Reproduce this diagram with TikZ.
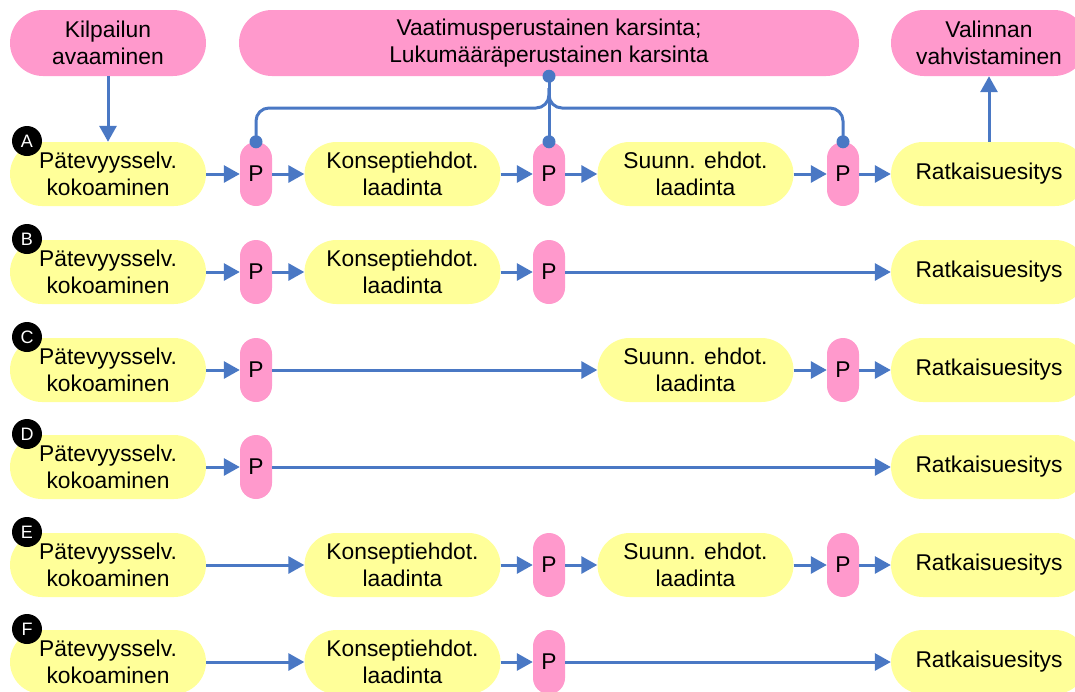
\documentclass[tikz,border=0pt]{standalone}
\usepackage{fontspec}
\setmainfont{Liberation Sans}
\usetikzlibrary{arrows.meta}
\definecolor{pinkc}{HTML}{FF99CC}
\definecolor{yelc}{HTML}{FFFF99}
\definecolor{bluec}{HTML}{4A78C4}
\begin{document}
\begin{tikzpicture}[x=1pt,y=-1pt,
 font=\fontsize{22.8}{27}\selectfont,
 yb/.style={fill=yelc, minimum width=196pt, minimum height=64pt, rounded corners=32pt, inner sep=0pt, align=center},
 pb/.style={fill=pinkc, minimum width=32pt, minimum height=64pt, rounded corners=16pt, inner sep=0pt},
 tb/.style={fill=pinkc, minimum height=66pt, rounded corners=33pt, inner sep=0pt, align=center},
 arr/.style={draw=bluec, line width=3pt, -{Triangle[length=16pt,width=17pt]}},
 ln/.style={draw=bluec, line width=3pt},
 bdot/.style={circle, fill=bluec, inner sep=0pt, minimum size=13pt},
 lett/.style={circle, fill=black, text=white, inner sep=0pt, minimum size=30pt, font=\fontsize{18}{18}\selectfont}]
\useasboundingbox (0,0) rectangle (1075,691);
\clip (0,0) rectangle (1075,691);
% top boxes
\node[tb, minimum width=196pt] (t1) at (108,43) {Kilpailun\\avaaminen};
\node[tb, minimum width=620pt] (t2) at (549,43) {Vaatimusperustainen karsinta;\\Lukumääräperustainen karsinta};
\node[tb, minimum width=196pt] (t3) at (989,43) {Valinnan\\vahvistaminen};
% Row A
\node[yb] (a1) at (108,174) {Pätevyysselv.\\kokoaminen};
\node[pb] (aP1) at (256,174) {P};
\node[yb] (a2) at (402.5,174) {Konseptiehdot.\\laadinta};
\node[pb] (aP2) at (549,174) {P};
\node[yb] (a3) at (695.5,174) {Suunn. ehdot.\\laadinta};
\node[pb] (aP3) at (843,174) {P};
\node[yb] (a4) at (989,174) {Ratkaisuesitys};
\draw[arr] (a1) -- (aP1);
\draw[arr] (aP1) -- (a2);
\draw[arr] (a2) -- (aP2);
\draw[arr] (aP2) -- (a3);
\draw[arr] (a3) -- (aP3);
\draw[arr] (aP3) -- (a4);
\draw[arr] (t1) -- (a1.north -| t1);
\draw[arr] (a4.north -| t3) -- (t3);
% bracket
\coordinate (bj) at (549,108);
\draw[ln] (t2.south -| aP2) -- (aP2.north);
\draw[ln, rounded corners=13pt] (549,88) -- (bj) -- (bj -| aP1) -- (aP1.north);
\draw[ln, rounded corners=13pt] (549,88) -- (bj) -- (bj -| aP3) -- (aP3.north);
\node[bdot] at (t2.south -| aP2) {};
\node[bdot] at (aP1.north) {};
\node[bdot] at (aP2.north) {};
\node[bdot] at (aP3.north) {};
% Row B
\node[yb] (b1) at (108,272) {Pätevyysselv.\\kokoaminen};
\node[pb] (bP1) at (256,272) {P};
\node[yb] (b2) at (402.5,272) {Konseptiehdot.\\laadinta};
\node[pb] (bP2) at (549,272) {P};
\node[yb] (b4) at (989,272) {Ratkaisuesitys};
\draw[arr] (b1) -- (bP1);
\draw[arr] (bP1) -- (b2);
\draw[arr] (b2) -- (bP2);
\draw[arr] (bP2) -- (b4);
% Row C
\node[yb] (c1) at (108,370) {Pätevyysselv.\\kokoaminen};
\node[pb] (cP1) at (256,370) {P};
\node[yb] (c3) at (695.5,370) {Suunn. ehdot.\\laadinta};
\node[pb] (cP3) at (843,370) {P};
\node[yb] (c4) at (989,370) {Ratkaisuesitys};
\draw[arr] (c1) -- (cP1);
\draw[arr] (cP1) -- (c3);
\draw[arr] (c3) -- (cP3);
\draw[arr] (cP3) -- (c4);
% Row D
\node[yb] (d1) at (108,467) {Pätevyysselv.\\kokoaminen};
\node[pb] (dP1) at (256,467) {P};
\node[yb] (d4) at (989,467) {Ratkaisuesitys};
\draw[arr] (d1) -- (dP1);
\draw[arr] (dP1) -- (d4);
% Row E
\node[yb] (e1) at (108,565) {Pätevyysselv.\\kokoaminen};
\node[yb] (e2) at (402.5,565) {Konseptiehdot.\\laadinta};
\node[pb] (eP2) at (549,565) {P};
\node[yb] (e3) at (695.5,565) {Suunn. ehdot.\\laadinta};
\node[pb] (eP3) at (843,565) {P};
\node[yb] (e4) at (989,565) {Ratkaisuesitys};
\draw[arr] (e1) -- (e2);
\draw[arr] (e2) -- (eP2);
\draw[arr] (eP2) -- (e3);
\draw[arr] (e3) -- (eP3);
\draw[arr] (eP3) -- (e4);
% Row F
\node[yb] (f1) at (108,662) {Pätevyysselv.\\kokoaminen};
\node[yb] (f2) at (402.5,662) {Konseptiehdot.\\laadinta};
\node[pb] (fP2) at (549,662) {P};
\node[yb] (f4) at (989,662) {Ratkaisuesitys};
\draw[arr] (f1) -- (f2);
\draw[arr] (f2) -- (fP2);
\draw[arr] (fP2) -- (f4);
% letters
\node[lett] (lA) at (27,141) {A};
\node[lett] (lB) at (27,239) {B};
\node[lett] (lC) at (27,337) {C};
\node[lett] (lD) at (27,434) {D};
\node[lett] (lE) at (27,532) {E};
\node[lett] (lF) at (27,629) {F};
\end{tikzpicture}
\end{document}
